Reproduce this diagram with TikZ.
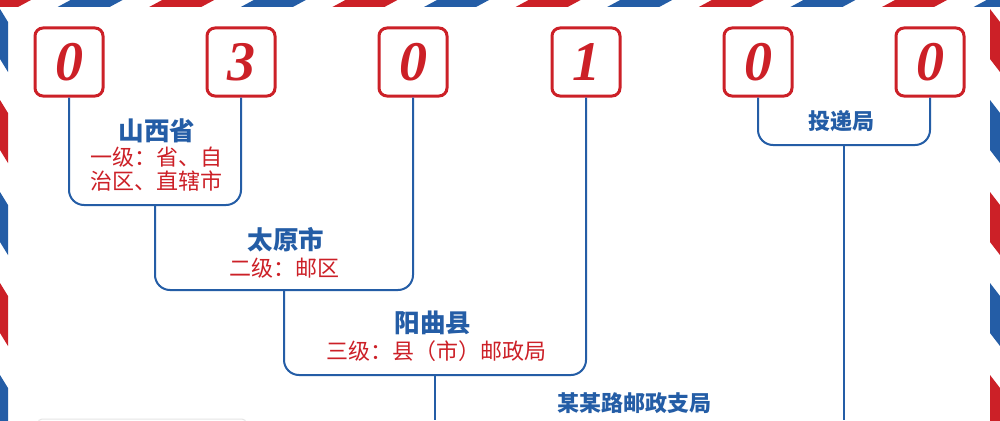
\documentclass[tikz,border=0pt]{standalone}
\usepackage{fontspec}
\setmainfont{Liberation Serif}
\newfontfamily\cjk{Noto Sans CJK SC}
\usetikzlibrary{calc}
\definecolor{postRed}{RGB}{204,32,39}
\definecolor{postBlue}{RGB}{36,93,166}

\begin{document}
\begin{tikzpicture}[x=1pt, y=-1pt,
    digit/.style={draw=postRed, line width=3pt, rounded corners=8pt, minimum size=68pt,
      inner sep=0pt, text=postRed, font=\fontsize{56}{56}\selectfont\bfseries\itshape},
    link/.style={draw=postBlue, line width=2pt, rounded corners=15pt},
    title/.style={text=postBlue, font=\cjk\bfseries\fontsize{25.5}{28}\selectfont},
    office/.style={text=postBlue, font=\cjk\bfseries\fontsize{22}{24}\selectfont},
    level/.style={text=postRed, font=\cjk\fontsize{22}{23.5}\selectfont, align=center}]
    \useasboundingbox (0,0) rectangle (1000,420);
    \fill[white] (0,0) rectangle (1000,420);
    \clip (0,0) rectangle (1000,420);
    % airmail edge
    \foreach \k in {0,...,5} {
        \fill[postRed] ({-34+183.2*\k},7) -- ++(52,0) -- ++(13,-7) -- ++(-52,0) -- cycle;
        \fill[postBlue] ({57.6+183.2*\k},7) -- ++(52,0) -- ++(13,-7) -- ++(-52,0) -- cycle;
    }
    \foreach \k in {0,1,2} {
        \fill[postBlue] (0,{9+183*\k}) -- ++(8,13) -- ++(0,50) -- ++(-8,-13) -- cycle;
        \fill[postRed] (0,{100+183*\k}) -- ++(8,13) -- ++(0,50) -- ++(-8,-13) -- cycle;
        \fill[postRed] (990,{9+183*\k}) -- ++(10,13) -- ++(0,50) -- ++(-10,-13) -- cycle;
        \fill[postBlue] (990,{100+183*\k}) -- ++(10,13) -- ++(0,50) -- ++(-10,-13) -- cycle;
    }
    \draw[black!10, line width=1pt, rounded corners=4pt] (38,426) -- (38,419) -- (246,419) -- (246,426);
    % postcode digits
    \foreach \n/\x/\v in {1/69/0, 2/241/3, 3/413/0, 4/586/1, 5/758/0, 6/930/0}
        \node[digit] (d\n) at (\x,62) {\v};
    \coordinate (b1) at (155,205);
    \coordinate (b2) at (284,290);
    \coordinate (b3) at (435,375);
    \coordinate (b4) at (844,145);
    \coordinate (e3) at (435,420);
    \coordinate (e4) at (844,420);
    \draw[link] (d1.south) -- (d1.south |- b1) -| (d2.south);
    \draw[link] (b1) -- (b1 |- b2) -| (d3.south);
    \draw[link] (b2) -- (b2 |- b3) -| (d4.south);
    \draw[link] (d5.south) -- (d5.south |- b4) -| (d6.south);
    \draw[link] (b3) -- (e3);
    \draw[link] (b4) -- (e4);
    % labels
    \node[title] (prov) at (157,131) {山西省};
    \node[level] (provLevel) at (156,169) {一级：省、自\\治区、直辖市};
    \node[title] (city) at (286,240) {太原市};
    \node[level] (cityLevel) at (284,268) {二级：邮区};
    \node[title] (county) at (433,323) {阳曲县};
    \node[level] (countyLevel) at (436,351) {三级：县（市）邮政局};
    \node[office] (deliv) at (841,121) {投递局};
    \node[office] (branch) at (634,403) {某某路邮政支局};
\end{tikzpicture}
\end{document}
